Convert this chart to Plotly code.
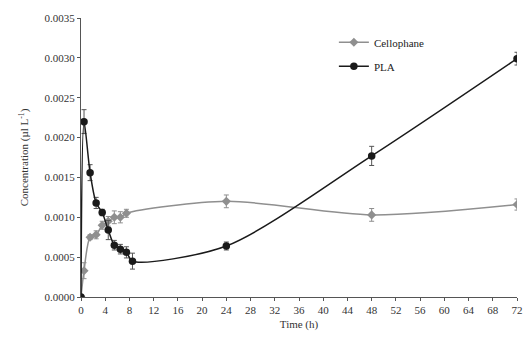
import plotly.graph_objects as go

time_cello = [0, 0.5, 1.5, 2.5, 3.5, 4.5, 5.5, 6.5, 7.5, 24, 48, 72]
cello = [0.0, 0.00033, 0.00075, 0.00078, 0.00090, 0.00095, 0.00100, 0.00100, 0.00105, 0.00120, 0.00103, 0.00116]
cello_err = [0.0, 0.00010, 0.00003, 0.00005, 0.00005, 0.00006, 0.00008, 0.00007, 0.00005, 0.00008, 0.00008, 0.00007]

time_pla = [0, 0.5, 1.5, 2.5, 3.5, 4.5, 5.5, 6.5, 7.5, 8.5, 24, 48, 72]
pla = [0.0, 0.00220, 0.00156, 0.00118, 0.00106, 0.00084, 0.00065, 0.00060, 0.00056, 0.00045, 0.00064, 0.00177, 0.00299]
pla_err = [0.0, 0.00015, 0.00010, 0.00007, 0.00004, 0.00012, 0.00006, 0.00006, 0.00007, 0.00010, 0.00005, 0.00012, 0.00008]

x_ticks = list(range(0, 73, 4))
y_ticks = [0.0, 0.0005, 0.0010, 0.0015, 0.0020, 0.0025, 0.0030, 0.0035]

FONT = "Liberation Serif"
GRAY = "#8f8f8f"
BLACK = "#1a1a1a"

fig = go.Figure()
fig.add_trace(go.Scatter(
    x=time_cello, y=cello, name="Cellophane", mode="lines+markers", legendgroup="a",
    line=dict(color=GRAY, width=1.5, shape="spline", smoothing=0.8),
    marker=dict(symbol="diamond", size=7, color=GRAY),
    error_y=dict(type="data", array=cello_err, color=GRAY, thickness=1, width=2.5),
))
fig.add_trace(go.Scatter(
    x=time_pla, y=pla, name="PLA", mode="lines+markers", legendgroup="b",
    line=dict(color=BLACK, width=1.5, shape="spline", smoothing=0.8),
    marker=dict(symbol="circle", size=7.5, color=BLACK),
    error_y=dict(type="data", array=pla_err, color="#555555", thickness=1, width=2.5),
))

fig.update_layout(
    width=526, height=340,
    margin=dict(l=81, r=9, t=18, b=43, autoexpand=False),
    paper_bgcolor="white", plot_bgcolor="white",
    font=dict(family=FONT, size=11, color="#333333"),
    showlegend=True,
    legend=dict(x=0.58, y=0.965, xanchor="left", yanchor="top",
                bgcolor="rgba(0,0,0,0)", font=dict(family=FONT, size=11, color="#222222"),
                itemwidth=30, tracegroupgap=5),
    xaxis=dict(range=[0, 72], tickvals=x_ticks, ticktext=[str(t) for t in x_ticks],
               showgrid=False, zeroline=False, showline=True, linecolor="#555555", linewidth=1,
               ticks="outside", ticklen=3, tickcolor="#555555", automargin=False,
               title=dict(text="Time (h)", font=dict(family=FONT, size=11), standoff=5),
               tickfont=dict(family=FONT, size=11)),
    yaxis=dict(range=[0, 0.0035], tickvals=y_ticks, ticktext=[f"{v:.4f}" for v in y_ticks],
               showgrid=False, zeroline=False, showline=True, linecolor="#555555", linewidth=1,
               ticks="outside", ticklen=3, tickcolor="#555555", automargin=False,
               title=dict(text="Concentration (µl L<sup>-1</sup>)", font=dict(family=FONT, size=11), standoff=13),
               tickfont=dict(family=FONT, size=11)),
)

fig.write_html("out.html", config={"displayModeBar": False},
               post_script="document.body.style.margin='0';")
